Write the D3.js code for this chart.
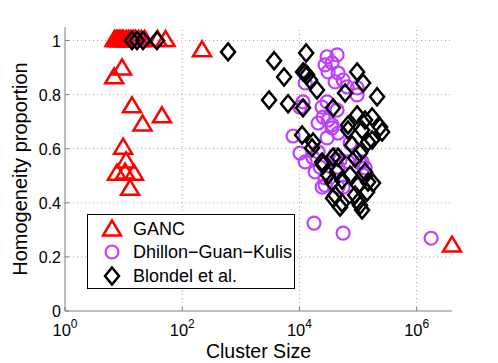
<!DOCTYPE html>
<html><head><meta charset="utf-8">
<script src="https://cdn.jsdelivr.net/npm/d3@7/dist/d3.min.js"></script>
<style>body{margin:0;background:#fff}svg{display:block}text{font-family:"Liberation Sans",Arial,sans-serif}</style>
</head><body>
<script>
const xTickExps = [0, 2, 4, 6];
const yTicks = [0, 0.2, 0.4, 0.6, 0.8, 1];
const seriesNames = ["GANC", "Dhillon\u2212Guan\u2212Kulis", "Blondel et al."];

const gancSize = [7,7.5,8,8.5,9,9.5,10,11,12,13,14,15,16,18,20,23,38,52,
  218,9.4,6.9,13.9,45,21,9.8,11,7.7,10.6,15,12.9,4e6];
const gancHomog = [1,1,1,1,1,1,1,1,1,1,1,1,1,1,1,1,1,1,
  0.962,0.895,0.862,0.755,0.718,0.688,0.602,0.551,0.506,0.51,0.506,0.45,0.24];

const dgkSize = [20,29600,43800,27300,36000,30800,45600,40500,55500,64900,96200,11500,10200,24300,29600,25300,30800,36000,20800,43800,36000,45600,29600,10200,12500,17100,20800,40500,45600,67500,117000,132000,18500,27300,45600,24300,7780,17700,55500,1760000,12500,73000,49300,108000,22500,96200,27300,55500,121700];
const dgkHomog = [1.0,0.940,0.947,0.910,0.917,0.884,0.880,0.847,0.854,0.829,0.825,0.773,0.754,0.754,0.773,0.717,0.706,0.688,0.695,0.743,0.677,0.658,0.640,0.584,0.551,0.566,0.588,0.577,0.532,0.551,0.551,0.529,0.514,0.492,0.458,0.458,0.647,0.325,0.288,0.269,0.843,0.621,0.558,0.547,0.532,0.799,0.465,0.458,0.503];

const blondelSize = [13.9,16.9,21.4,37,605,3690,5460,13000,12500,13500,15200,11500,19900,3030,6390,11500,96200,121700,211000,60000,37400,96200,131600,173400,67500,237000,11100,16400,24300,37400,30800,43800,36000,53300,67500,117000,257000,79000,108000,88900,173400,131600,73000,148000,100000,40500,53300,88900,108000,117000,142500,49300,37400,180000,17100,148000,45600,25300,100000];
const blondelHomog = [1,1,1,1,0.958,0.925,0.865,0.954,0.880,0.873,0.854,0.884,0.817,0.780,0.766,0.751,0.884,0.843,0.792,0.806,0.751,0.725,0.706,0.717,0.688,0.680,0.651,0.603,0.551,0.569,0.503,0.514,0.477,0.484,0.669,0.669,0.662,0.614,0.584,0.566,0.632,0.514,0.503,0.477,0.466,0.429,0.399,0.429,0.391,0.373,0.440,0.384,0.417,0.473,0.625,0.625,0.569,0.540,0.403];

const W = 498, H = 363;
const m = {left: 65, right: 46, top: 27, bottom: 52};
const RED = "#ff0000", PURPLE = "#bf40ff", BLACK = "#000";

const svg = d3.select("body").append("svg").attr("width", W).attr("height", H);
const x = d3.scaleLog().domain([1, 4e6]).range([m.left, W - m.right]);
const y = d3.scaleLinear().domain([0, 1.05]).range([H - m.bottom, m.top]);

// grid
const g = svg.append("g");
g.selectAll(".vg").data(xTickExps.slice(1)).join("line")
  .attr("x1", d => x(Math.pow(10, d))).attr("x2", d => x(Math.pow(10, d)))
  .attr("y1", y(0)).attr("y2", m.top)
  .attr("stroke", "#a8a8a8").attr("stroke-width", 1).attr("stroke-dasharray", "1,3");
g.selectAll(".hg").data(yTicks.slice(1)).join("line")
  .attr("x1", m.left).attr("x2", W - m.right)
  .attr("y1", d => y(d)).attr("y2", d => y(d))
  .attr("stroke", "#a8a8a8").attr("stroke-width", 1).attr("stroke-dasharray", "1,3");

// axes lines
svg.append("line").attr("x1", m.left).attr("x2", W - m.right).attr("y1", y(0)).attr("y2", y(0))
  .attr("stroke", "#808080").attr("stroke-width", 1);
svg.append("line").attr("x1", m.left).attr("x2", m.left).attr("y1", y(0)).attr("y2", m.top)
  .attr("stroke", "#808080").attr("stroke-width", 1);
// ticks (inward)
svg.selectAll(".xt").data(xTickExps).join("line")
  .attr("x1", d => x(Math.pow(10, d))).attr("x2", d => x(Math.pow(10, d)))
  .attr("y1", y(0)).attr("y2", y(0) - 4).attr("stroke", "#808080");
svg.selectAll(".yt").data(yTicks).join("line")
  .attr("x1", m.left).attr("x2", m.left + 4)
  .attr("y1", d => y(d)).attr("y2", d => y(d)).attr("stroke", "#808080");

// tick labels
svg.selectAll(".yl").data(yTicks).join("text")
  .attr("x", m.left - 4).attr("y", d => y(d) + 6)
  .attr("text-anchor", "end").attr("font-size", 16).text(d => d3.format("~g")(d));
const xl = svg.selectAll(".xl").data(xTickExps).join("text")
  .attr("x", d => x(Math.pow(10, d))).attr("y", y(0) + 25)
  .attr("text-anchor", "middle").attr("font-size", 16.5);
xl.append("tspan").text("10");
xl.append("tspan").attr("dy", -8).attr("font-size", 12).text(d => d);

// axis titles
svg.append("text").attr("x", (m.left + W - m.right) / 2).attr("y", 358)
  .attr("text-anchor", "middle").attr("font-size", 19.5).text("Cluster Size");
svg.append("text").attr("transform", `translate(27,${(m.top + y(0)) / 2}) rotate(-90)`)
  .attr("text-anchor", "middle").attr("font-size", 20).text("Homogeneity proportion");

// markers
const tri = "M0,-8.5L9,6.5L-9,6.5Z";
const dia = "M0,-8.5L7,0L0,8.5L-7,0Z";
function triangles(sel, xs, ys) {
  sel.selectAll("path").data(xs.map((v, i) => [v, ys[i]])).join("path")
    .attr("d", tri).attr("transform", d => `translate(${x(d[0])},${y(d[1]) - 1})`)
    .attr("fill", "none").attr("stroke", RED).attr("stroke-width", 2.5).attr("stroke-linejoin", "miter");
}
function circles(sel, xs, ys) {
  sel.selectAll("circle").data(xs.map((v, i) => [v, ys[i]])).join("circle")
    .attr("cx", d => x(d[0])).attr("cy", d => y(d[1])).attr("r", 6.5)
    .attr("fill", "none").attr("stroke", PURPLE).attr("stroke-width", 2.2);
}
function diamonds(sel, xs, ys) {
  sel.selectAll("path").data(xs.map((v, i) => [v, ys[i]])).join("path")
    .attr("d", dia).attr("transform", d => `translate(${x(d[0])},${y(d[1])})`)
    .attr("fill", "none").attr("stroke", BLACK).attr("stroke-width", 2.5);
}
triangles(svg.append("g"), gancSize, gancHomog);
circles(svg.append("g"), dgkSize, dgkHomog);
diamonds(svg.append("g"), blondelSize, blondelHomog);

// legend
const lg = svg.append("g");
lg.append("rect").attr("x", 87.5).attr("y", 214.5).attr("width", 207).attr("height", 74)
  .attr("fill", "#fff").attr("stroke", "#000").attr("stroke-width", 1);
const rowsY = [229, 252, 276];
lg.append("path").attr("d", tri).attr("transform", `translate(112,${rowsY[0]})`)
  .attr("fill", "none").attr("stroke", RED).attr("stroke-width", 2.5);
lg.append("circle").attr("cx", 112).attr("cy", rowsY[1]).attr("r", 6.5)
  .attr("fill", "none").attr("stroke", PURPLE).attr("stroke-width", 2.2);
lg.append("path").attr("d", dia).attr("transform", `translate(112,${rowsY[2]})`)
  .attr("fill", "none").attr("stroke", BLACK).attr("stroke-width", 2.5);
lg.selectAll(".lt").data(seriesNames).join("text")
  .attr("x", 133).attr("y", (d, i) => rowsY[i] + 6).attr("font-size", 18).text(d => d);
</script>
</body></html>
